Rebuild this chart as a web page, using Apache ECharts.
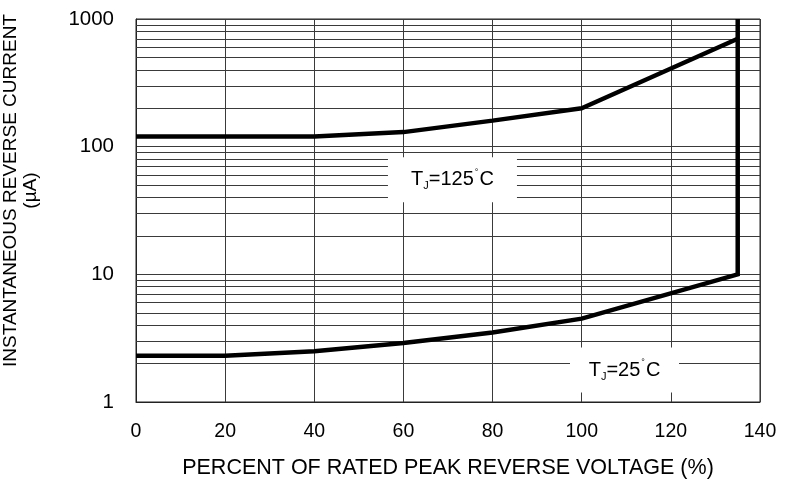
<!DOCTYPE html>
<html>
<head>
<meta charset="utf-8">
<script src="https://cdn.jsdelivr.net/npm/echarts@6/dist/echarts.min.js"></script>
<style>html,body{margin:0;padding:0;background:#fff}#c{width:800px;height:482px}</style>
</head>
<body>
<div id="c"></div>
<script>
// ---- data ----
const xValues = [0, 20, 40, 60, 80, 100, 135];
const current125 = [120, 120, 120, 130, 160, 200, 700];
const current25 = [2.3, 2.3, 2.5, 2.9, 3.5, 4.5, 10];
const breakdownX = 135;
const breakdownTop = 1000;
const xTickLabels = ['0', '20', '40', '60', '80', '100', '120', '140'];
const yTickLabels = ['1', '10', '100', '1000'];
const minorGridValues = [2, 3, 4, 5, 6, 7, 8, 9, 20, 30, 40, 50, 60, 70, 80, 90, 200, 300, 400, 500, 600, 700, 800, 900];
const label125 = { text: '125', x: 71, y: 55 };
const label25 = { text: '25', x: 109.6, y: 1.78 };
const xTitle = 'PERCENT OF RATED PEAK REVERSE VOLTAGE (%)';
const yTitle = 'INSTANTANEOUS REVERSE CURRENT\n(µA)';

const FONT = '"Liberation Sans", Arial, sans-serif';
const s125 = xValues.map((x, i) => [x, current125[i]]);
const s25 = xValues.map((x, i) => [x, current25[i]]);
s25.push([breakdownX, breakdownTop]);

const rich = {
  t: { fontSize: 20, fontFamily: FONT, color: '#000', lineHeight: 24 },
  s: { fontSize: 11, fontFamily: FONT, color: '#000', verticalAlign: 'bottom', lineHeight: 24 },
  d: { fontSize: 9, fontFamily: FONT, color: '#000', verticalAlign: 'top', lineHeight: 24, padding: [0, 1, 0, 1] }
};
function tjLabel(l, w) {
  return {
    coord: [l.x, l.y],
    symbol: 'rect',
    symbolSize: [w, 45],
    itemStyle: { color: '#fff' },
    label: {
      show: true, position: 'inside',
      formatter: '{t|T}{s|J}{t|=' + l.text + '}{d|°}{t|C}',
      rich: rich
    }
  };
}

const chart = echarts.init(document.getElementById('c'), null, { renderer: 'canvas' });
chart.setOption({
  animation: false,
  backgroundColor: '#fff',
  grid: { left: 136, right: 40, top: 19, bottom: 80, containLabel: false, outerBoundsMode: 'none',
    show: true, borderColor: '#222', borderWidth: 1, backgroundColor: 'transparent' },
  xAxis: {
    type: 'value', min: 0, max: 140, interval: 20,
    axisLine: { show: true, lineStyle: { color: '#222', width: 1 } },
    axisTick: { show: false },
    axisLabel: { color: '#000', fontSize: 19.5, fontFamily: FONT, margin: 20,
      formatter: v => xTickLabels[Math.round(v / 20)] },
    splitLine: { show: true, lineStyle: { color: '#3a3a3a', width: 1 } },
    name: xTitle, nameLocation: 'middle', nameGap: 55,
    nameTextStyle: { color: '#000', fontSize: 21.5, fontFamily: FONT }
  },
  yAxis: {
    type: 'log', logBase: 10, min: 1, max: 1000,
    axisLine: { show: true, lineStyle: { color: '#222', width: 1 } },
    axisTick: { show: false },
    axisLabel: { color: '#000', fontSize: 20.5, fontFamily: FONT, margin: 22,
      formatter: v => yTickLabels[Math.round(Math.log10(v))] },
    splitLine: { show: true, lineStyle: { color: '#3a3a3a', width: 1 } },
    name: yTitle, nameLocation: 'middle', nameGap: 95, nameRotate: 90,
    nameTextStyle: { color: '#000', fontSize: 19, fontFamily: FONT, lineHeight: 20, padding: [0, 0, 0, 40] }
  },
  series: [
    {
      type: 'line', data: s125, symbol: 'none', z: 3,
      lineStyle: { color: '#000', width: 4.5 },
      markLine: {
        silent: true, symbol: 'none', z: 1,
        label: { show: false },
        lineStyle: { color: '#3a3a3a', width: 1, type: 'solid' },
        data: minorGridValues.map(v => ({ yAxis: v }))
      }
    },
    {
      type: 'line', data: s25, symbol: 'none', z: 3,
      lineStyle: { color: '#000', width: 4.5, join: 'miter' },
      markPoint: {
        silent: true, z: 6,
        data: [tjLabel(label125, 129), tjLabel(label25, 109)]
      }
    }
  ]
});
</script>
</body>
</html>
